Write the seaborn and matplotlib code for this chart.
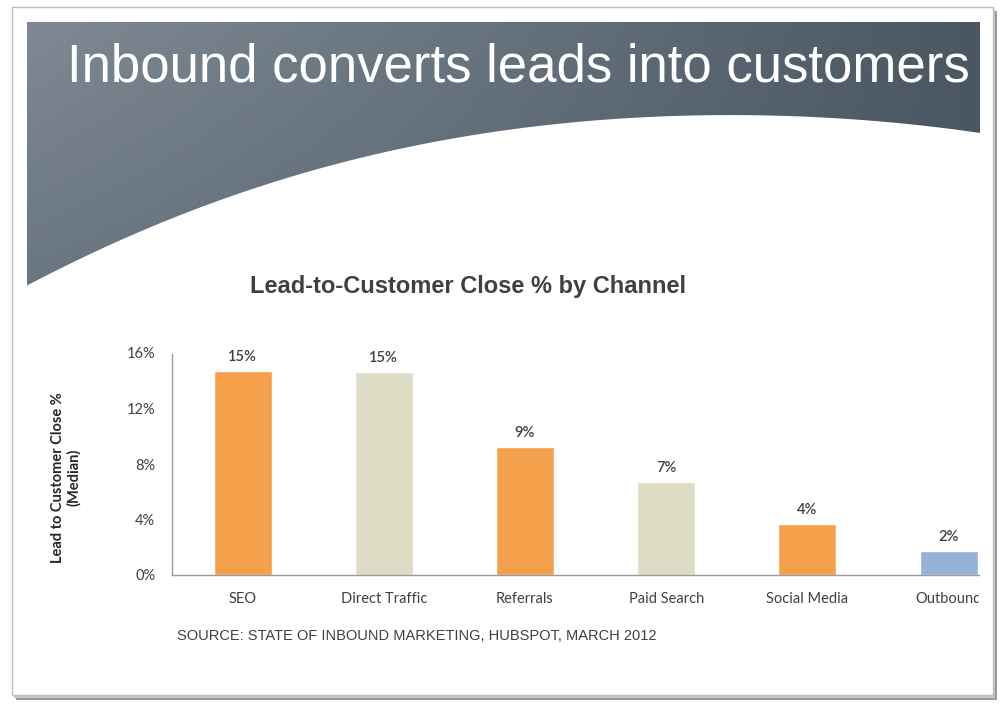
import numpy as np
import pandas as pd
import matplotlib
matplotlib.use("Agg")
import matplotlib.pyplot as plt
import seaborn as sns
from matplotlib.patches import Rectangle, PathPatch
from matplotlib.path import Path
from matplotlib.ticker import FuncFormatter

# data
channels = ["SEO", "Direct Traffic", "Referrals", "Paid Search", "Social Media", "Outbound"]
close_pct = [14.7, 14.6, 9.2, 6.7, 3.7, 1.7]
bar_colors = ["#F5A04B", "#DDDCC4", "#F5A04B", "#DDDCC4", "#F5A04B", "#95B3D9"]
y_ticks = [0, 4, 8, 12, 16]

slide_title = "Inbound converts leads into customers"
chart_title = "Lead-to-Customer Close % by Channel"
y_label = "Lead to Customer Close %\n(Median)"
source_note = "SOURCE: STATE OF INBOUND MARKETING, HUBSPOT, MARCH 2012"

df = pd.DataFrame({"channel": channels, "pct": close_pct})

sns.set_theme(style="white")
sans = ["Liberation Sans", "DejaVu Sans"]
body = ["Lato", "Open Sans", "DejaVu Sans"]
plt.rcParams["font.family"] = body

W, H = 1006, 712
fig = plt.figure(figsize=(W / 100, H / 100), dpi=100)

# background slide, pixel coords
bg = fig.add_axes([0, 0, 1, 1])
bg.set_xlim(0, W)
bg.set_ylim(H, 0)
bg.axis("off")

# frame with shadow
bg.add_patch(Rectangle((16, 11), 981, 689, facecolor="#9a9a9a", edgecolor="none", zorder=0))
bg.add_patch(Rectangle((14, 9), 981, 689, facecolor="#c8c8c8", edgecolor="none", zorder=0.5))
bg.add_patch(Rectangle((12, 7), 981, 688, facecolor="white", edgecolor="#bdbdbd", lw=1, zorder=1))

# header band, smooth lower edge
cx = [27, 87, 153, 220, 287, 353, 420, 487, 520, 600, 700, 800, 900, 980]
cy = [285, 257, 225, 200, 178, 160, 145, 133, 128, 120, 115, 117, 123, 133]
coef = np.polyfit(cx, cy, 5)
xs = np.linspace(980, 27, 200)
ys = np.polyval(coef, xs)
verts = [(27, 22), (980, 22)] + list(zip(xs, ys)) + [(27, 22)]
header = PathPatch(Path(verts, closed=True), facecolor="none", edgecolor="none", zorder=2)
bg.add_patch(header)
gx = np.linspace(0, 1, 256)
gy = np.linspace(0, 1, 64)
grad = 0.7 * gx[None, :] + 0.3 * gy[:, None] * (1 - gx[None, :])
cmap = matplotlib.colors.LinearSegmentedColormap.from_list("hdr", ["#7e8993", "#66727d", "#4a5763"])
img = bg.imshow(grad, cmap=cmap, extent=(27, 980, 290, 22), aspect="auto", zorder=2)
img.set_clip_path(header)

bg.text(518, 68, slide_title, color="white", fontsize=38, family=sans,
        ha="center", va="center", zorder=3)
bg.text(468, 287, chart_title, color="#404040", fontsize=17, fontweight="bold",
        family=sans, ha="center", va="center", zorder=3)
bg.text(177, 636, source_note, color="#404040", fontsize=10.5, family=sans,
        ha="left", va="center", zorder=3)

# chart axes
x0, x1, ytop, ybot = 172, 980, 353, 575
ax = fig.add_axes([x0 / W, 1 - ybot / H, (x1 - x0) / W, (ybot - ytop) / H])
ax.patch.set_alpha(0)
sns.barplot(data=df, x="channel", y="pct", hue="channel", palette=bar_colors,
            legend=False, width=0.41, ax=ax, saturation=1)
ax.set_xlim(-0.5, (x1 - 241) / 141.5)
ax.set_ylim(0, 16)
ax.set_yticks(y_ticks)
ax.yaxis.set_major_formatter(FuncFormatter(lambda v, p: f"{v:.0f}%"))
ax.set_xlabel("")
ax.set_ylabel(y_label, fontsize=10.5, fontweight="bold", color="#262626")
ax.yaxis.set_label_coords(-0.112, 0.44)
ax.tick_params(axis="y", labelsize=10.5, colors="#404040", length=0, pad=12)
ax.tick_params(axis="x", labelsize=10.5, colors="#404040", length=0, pad=12)
clip = Rectangle((0, 0), 979, H, transform=bg.transData, facecolor="none")
for lbl in ax.get_xticklabels():
    lbl.set_clip_path(clip)
for s in ["top", "right"]:
    ax.spines[s].set_visible(False)
for s in ["left", "bottom"]:
    ax.spines[s].set_linestyle((0, (1, 1)))
    ax.spines[s].set_color("#9a9a9a")
    ax.spines[s].set_linewidth(1)
for cont in ax.containers:
    ax.bar_label(cont, labels=[f"{v:.0f}%" for v in cont.datavalues], padding=5,
                 fontsize=10.5, fontweight="semibold", color="#404040")

fig.savefig("out.png", dpi=100)
